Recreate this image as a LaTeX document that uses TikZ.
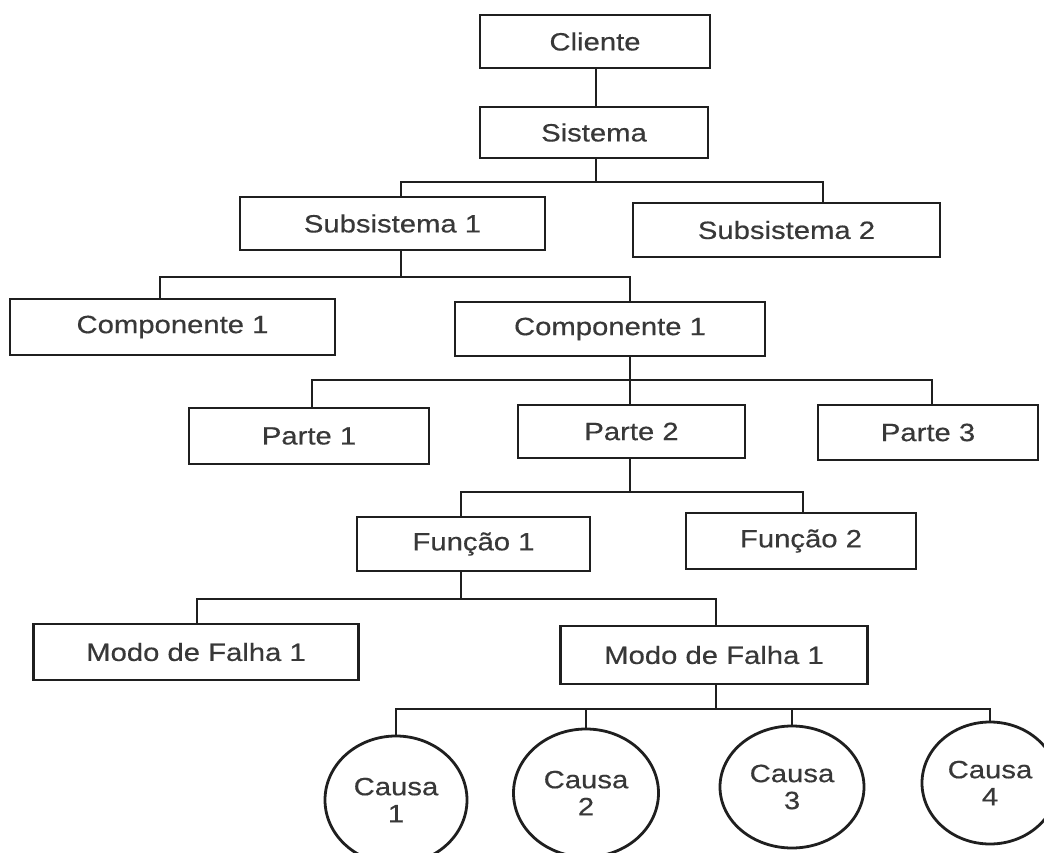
\documentclass[tikz,border=0pt]{standalone}
\usepackage{fontspec}
\setmainfont[FakeStretch=1.17,FakeBold=0.4]{Liberation Sans}
\usetikzlibrary{shapes.geometric}
\tikzset{
  box/.style={draw=black!88, line width=2.8pt, rectangle, inner sep=0pt, text=black!78, font=\fontsize{25}{27}\selectfont},
  causa/.style={draw=black!88, line width=2.8pt, ellipse, inner sep=0pt, align=center, text=black!78, font=\fontsize{25}{27}\selectfont},
  conn/.style={draw=black!88, line width=2.8pt}
}
\begin{document}
\begin{tikzpicture}[x=1pt,y=-1pt]
\clip (0,0) rectangle (1044,853);
\fill[white] (0,0) rectangle (1044,853);
% boxes
\node[box, minimum width=230pt, minimum height=53pt] (cli) at (595,41.5) {Cliente};
\node[box, minimum width=228pt, minimum height=51pt] (sis) at (594,132.5) {Sistema};
\node[box, minimum width=305pt, minimum height=53pt] (sub1) at (392.5,223.5) {Subsistema 1};
\node[box, minimum width=307pt, minimum height=54pt] (sub2) at (786.5,230) {Subsistema 2};
\node[box, minimum width=325pt, minimum height=56pt] (compL) at (172.5,327) {Componente 1};
\node[box, minimum width=310pt, minimum height=54pt] (compR) at (610,329) {Componente 1};
\node[box, minimum width=240pt, minimum height=56pt] (p1) at (309,436) {Parte 1};
\node[box, minimum width=227pt, minimum height=53pt] (p2) at (631.5,431.5) {Parte 2};
\node[box, minimum width=220pt, minimum height=55pt] (p3) at (928,432.5) {Parte 3};
\node[box, minimum width=233pt, minimum height=54pt] (f1) at (473.5,544) {Função 1};
\node[box, minimum width=230pt, minimum height=56pt] (f2) at (801,541) {Função 2};
\node[box, minimum width=325pt, minimum height=56pt] (mL) at (196,652) {Modo de Falha 1};
\node[box, minimum width=307pt, minimum height=58pt] (mR) at (714,655) {Modo de Falha 1};
% causes
\node[causa, minimum width=142pt, minimum height=128pt] (c1) at (396,800) {Causa\\1};
\node[causa, minimum width=145pt, minimum height=128pt] (c2) at (586,793) {Causa\\2};
\node[causa, minimum width=144pt, minimum height=122pt] (c3) at (792,787) {Causa\\3};
\node[causa, minimum width=136pt, minimum height=122pt] (c4) at (990,783) {Causa\\4};
% junctions
\coordinate (j0) at (596,182);
\coordinate (j1) at (401,277);
\coordinate (j2) at (630,380);
\coordinate (j3) at (630,492);
\coordinate (j4) at (461,599);
\coordinate (j5) at (716,709);
% connectors
\draw[conn] (cli.south -| j0) -- (sis.north -| j0);
\draw[conn] (sis.south -| j0) -- (j0);
\draw[conn] ([xshift=8.5pt]sub1.north) |- (j0);
\draw[conn] ([xshift=36.5pt]sub2.north) |- (j0);
\draw[conn] (sub1.south -| j1) -- (j1);
\draw[conn] ([xshift=-12.5pt]compL.north) |- (j1);
\draw[conn] ([xshift=20pt]compR.north) |- (j1);
\draw[conn] (compR.south -| j2) -- (j2);
\draw[conn] ([xshift=3pt]p1.north) |- (j2);
\draw[conn] ([xshift=-1.5pt]p2.north) |- (j2);
\draw[conn] ([xshift=4pt]p3.north) |- (j2);
\draw[conn] (p2.south -| j3) -- (j3);
\draw[conn] ([xshift=-12.5pt]f1.north) |- (j3);
\draw[conn] ([xshift=2pt]f2.north) |- (j3);
\draw[conn] (f1.south -| j4) -- (j4);
\draw[conn] ([xshift=1pt]mL.north) |- (j4);
\draw[conn] ([xshift=2pt]mR.north) |- (j4);
\draw[conn] (mR.south -| j5) -- (j5);
\draw[conn] (c1.north) |- (j5);
\draw[conn] (c2.north) |- (j5);
\draw[conn] (c3.north) |- (j5);
\draw[conn] (c4.north) |- (j5);
\end{tikzpicture}
\end{document}
